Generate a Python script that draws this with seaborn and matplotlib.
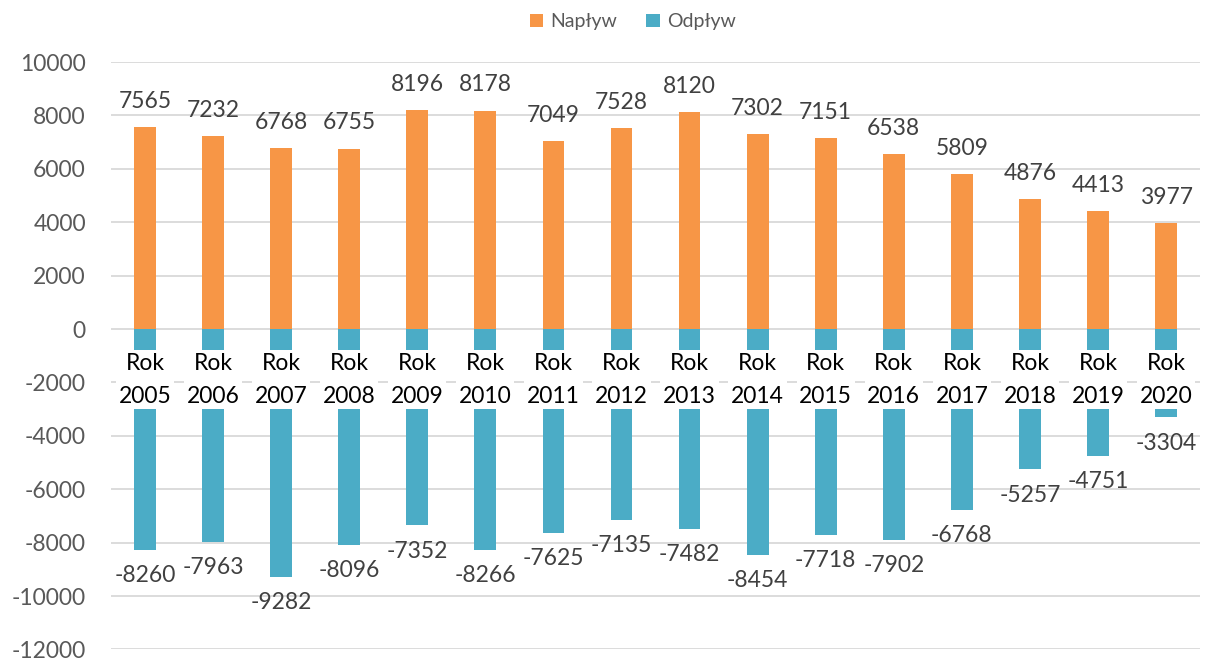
import matplotlib
matplotlib.use("Agg")
import matplotlib.pyplot as plt
import seaborn as sns
import pandas as pd
from matplotlib.patches import Patch

years = [str(y) for y in range(2005, 2021)]
naplyw = [7565, 7232, 6768, 6755, 8196, 8178, 7049, 7528, 8120, 7302, 7151, 6538, 5809, 4876, 4413, 3977]
odplyw = [-8260, -7963, -9282, -8096, -7352, -8266, -7625, -7135, -7482, -8454, -7718, -7902, -6768, -5257, -4751, -3304]
series_names = ["Napływ", "Odpływ"]
yticks = list(range(-12000, 10001, 2000))

sns.set_theme(style="white")
plt.rcParams['font.family'] = ['Lato', 'DejaVu Sans']

df = pd.DataFrame({
    "year": years * 2,
    "value": naplyw + odplyw,
    "series": [series_names[0]] * len(years) + [series_names[1]] * len(years),
})

colors = {"Napływ": "#F79646", "Odpływ": "#4BACC6"}

fig = plt.figure(figsize=(12.05, 6.62), dpi=100)
ax = fig.add_axes([0.092, 0.019, 0.904, 0.8873])

sns.barplot(data=df, x="year", y="value", hue="series", dodge=False,
            palette=colors, saturation=1, width=0.32, ax=ax, legend=False,
            zorder=2, edgecolor="none")

ax.set_ylim(-12000, 10000)
ax.set_xlim(-0.5, len(years) - 0.5)
ax.set_yticks(yticks)
ax.set_yticklabels([str(v) for v in yticks])
ax.yaxis.grid(True, color="#D9D9D9", linewidth=1.3, zorder=0)
ax.set_axisbelow(True)
for s in ax.spines.values():
    s.set_visible(False)
ax.tick_params(axis="y", length=0, pad=18, labelsize=16.5, labelcolor="#595959")
ax.set_xticks([])
ax.set_xlabel("")
ax.set_ylabel("")

for c in ax.containers:
    ax.bar_label(c, labels=[f"{int(v)}" for v in c.datavalues], padding=11,
                 fontsize=16.5, color="#404040")

for i, y in enumerate(years):
    ax.text(i, -1900, f"Rok\n{y}", ha="center", va="center", fontsize=16.5,
            color="black", linespacing=1.7, zorder=5,
            bbox=dict(boxstyle="square,pad=0.12", fc="white", ec="none"))

handles = [Patch(facecolor=colors[n], edgecolor="none") for n in series_names]
fig.legend(handles, series_names, loc="center", bbox_to_anchor=(0.525, 0.967),
           ncol=2, frameon=False, fontsize=14, labelcolor="#595959",
           handlelength=0.7, handleheight=0.7, handletextpad=0.35, columnspacing=1.5)

fig.savefig("out.png", dpi=100)
